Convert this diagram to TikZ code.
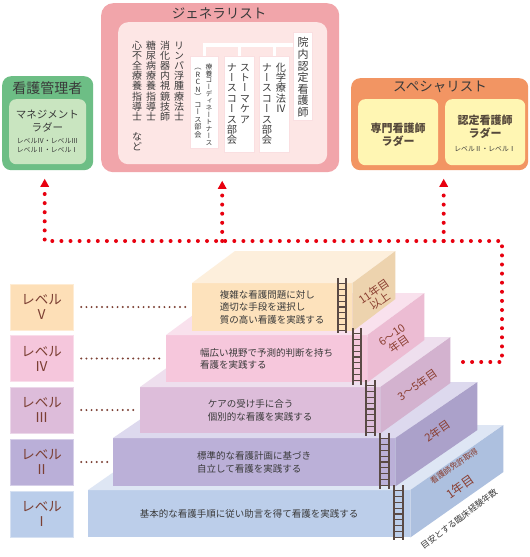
\documentclass[tikz,border=0pt]{standalone}
\usepackage{fontspec}
\setmainfont{Noto Sans CJK JP}
\newfontfamily\vjp[RawFeature=+vert]{Noto Sans CJK JP}
\makeatletter
\newdimen\tatestep
\newcommand\tate[2]{\vbox{\offinterlineskip\tatestep=#1\relax\@tfor\tate@c:=#2\do{\hbox to 1em{\hss\vrule height .88em depth .12em width 0pt\tate@c\hss}\kern\dimexpr\tatestep-1em\relax}}}
\makeatother
\definecolor{gOut}{HTML}{6DBE85}
\definecolor{gIn}{HTML}{C9E5C0}
\definecolor{pOut}{HTML}{F1A5AA}
\definecolor{pIn}{HTML}{FDE6E5}
\definecolor{oOut}{HTML}{F29563}
\definecolor{oIn}{HTML}{FFF6B3}
\definecolor{txt}{HTML}{3A3A3A}
\definecolor{brn}{HTML}{7B3F33}
\definecolor{sbrn}{HTML}{8A3E30}
\definecolor{dotred}{HTML}{E8000F}
\definecolor{lad}{HTML}{5A4A45}
\definecolor{cVf}{HTML}{FDE2BC}\definecolor{cVt}{HTML}{FDEFDC}\definecolor{cVs}{HTML}{EDD3AE}\definecolor{cVb}{HTML}{FDDFB7}
\definecolor{cIVf}{HTML}{F6C7DC}\definecolor{cIVt}{HTML}{F9E1ED}\definecolor{cIVs}{HTML}{ECBCD3}\definecolor{cIVb}{HTML}{F5C6DC}
\definecolor{cIIIf}{HTML}{DDBDDA}\definecolor{cIIIt}{HTML}{EEDFEE}\definecolor{cIIIs}{HTML}{D3B2CF}\definecolor{cIIIb}{HTML}{DDBCDA}
\definecolor{cIIf}{HTML}{BBB0D8}\definecolor{cIIt}{HTML}{DDD9EE}\definecolor{cIIs}{HTML}{ABA1CA}\definecolor{cIIb}{HTML}{BAAFD8}
\definecolor{cIf}{HTML}{BCCEEA}\definecolor{cIt}{HTML}{DEE6F4}\definecolor{cIs}{HTML}{ADC0DF}\definecolor{cIb}{HTML}{BACDEA}
\tikzset{
  face/.style={inner sep=0pt, anchor=north west, align=left, text=txt, font=\fontsize{9.5}{12.5}\selectfont},
  lvbox/.style={minimum width=63pt, minimum height=46pt, inner sep=0pt, align=center, text=brn, font=\fontsize{13.5}{15}\selectfont},
  reddot/.style={draw=dotred, line width=4pt, line cap=round, dash pattern=on 0pt off 9.1pt},
  leader/.style={draw=brn, line width=2.2pt, line cap=round, dash pattern=on 0pt off 5.2pt},
  ladrail/.style={draw=lad, line width=1.5pt},
  ladrung/.style={draw=lad, line width=1.2pt},
  sidelab/.style={rotate=35, align=center, text=sbrn, inner sep=0pt, font=\fontsize{11}{11.5}\selectfont},
  outbox/.style={rounded corners=9pt, anchor=north west, inner sep=0pt},
  inbox/.style={rounded corners=7pt, anchor=north west, inner sep=0pt},
  title/.style={text=txt, inner sep=0pt, font=\fontsize{13.5}{15}\selectfont},
  wbox/.style={fill=white, draw=pOut!35, line width=0.4pt, anchor=north west, inner sep=0pt},
  wline/.style={draw=white, line width=3.2pt},
  vcol/.style={anchor=north, inner sep=0pt, text=txt},
}
\newcommand\ladder[4]{%
  \draw[ladrail] (#1,#3) -- (#1,#4) (#2,#3) -- (#2,#4);
  \foreach \k in {1,...,9} \draw[ladrung] (#1,#3+\k*5.8) -- (#2,#3+\k*5.8);}
\begin{document}
\begin{tikzpicture}[x=1pt,y=-1pt]
\fill[white] (0,0) rectangle (530,557);
\useasboundingbox (0,0) rectangle (530,557);

% ---------- top boxes ----------
\node[outbox, fill=gOut, minimum width=91pt, minimum height=94pt] (mgr) at (2,76) {};
\node[inbox, fill=gIn, minimum width=77pt, minimum height=65pt] (mgrIn) at (9,99) {};
\node[title, font=\fontsize{14}{15}\selectfont] (mgrT) at (47.5,88) {看護管理者};
\node[text=txt, align=center, inner sep=0pt, font=\fontsize{10.5}{12.5}\selectfont] (mgrL) at (47.5,121) {マネジメント\\ラダー};
\node[text=txt, align=center, inner sep=0pt, font=\fontsize{6.8}{9}\selectfont] (mgrS) at (47.5,145.5) {レベルⅣ・レベルⅢ\\レベルⅡ・レベルⅠ};

\node[outbox, rounded corners=12pt, fill=pOut, minimum width=238pt, minimum height=169pt] (gen) at (101,3) {};
\node[inbox, rounded corners=10pt, fill=pIn, minimum width=209pt, minimum height=142pt] (genIn) at (118,22) {};
\node[title] (genT) at (219,13) {ジェネラリスト};

\node[outbox, fill=oOut, minimum width=177pt, minimum height=92pt] (spec) at (351,78) {};
\node[inbox, fill=oIn, minimum width=80pt, minimum height=66pt] (spA) at (358,99) {};
\node[inbox, fill=oIn, minimum width=80pt, minimum height=66pt] (spB) at (445,99) {};
\node[title] (specT) at (440,87) {スペシャリスト};
\node[text=txt!80!brown, align=center, inner sep=0pt, font=\bfseries\fontsize{11}{13}\selectfont] (spAT) at (398,134.5) {専門看護師\\ラダー};
\node[text=txt!80!brown, align=center, inner sep=0pt, font=\bfseries\fontsize{11}{13}\selectfont] (spBT) at (485,126.5) {認定看護師\\ラダー};
\node[text=txt, inner sep=0pt, font=\fontsize{6.8}{8}\selectfont] (spBS) at (485,149) {レベルⅡ・レベルⅠ};

% generalist inner content
\node[wbox, minimum width=19pt, minimum height=88pt] (bA) at (293,32) {};
\node[wbox, minimum width=30pt, minimum height=96pt] (b2) at (259,56) {};
\node[wbox, minimum width=30pt, minimum height=96pt] (b3) at (224,56) {};
\node[wbox, minimum width=28pt, minimum height=92pt] (b4) at (190,56) {};
\coordinate (hl) at (250,45);
\draw[wline] (b4.north) |- (bA.west |- hl);
\draw[wline] (b3.north) -- (b3.north |- hl);
\draw[wline] (b2.north) -- (b2.north |- hl);

\node[vcol, font=\vjp\fontsize{11}{11}\selectfont] (cA) at (303,37) {\tate{11.6pt}{院内認定看護師}};
\node[vcol, font=\vjp\fontsize{10.2}{10.2}\selectfont] (c2a) at (281,62) {\tate{10.4pt}{化学療法Ⅳ}};
\node[vcol, font=\vjp\fontsize{10.2}{10.2}\selectfont] (c2b) at (267,62) {\tate{10.4pt}{ナースコース部会}};
\node[vcol, font=\vjp\fontsize{10.2}{10.2}\selectfont] (c3a) at (245,62) {\tate{10.4pt}{ストーマケア}};
\node[vcol, font=\vjp\fontsize{10.2}{10.2}\selectfont] (c3b) at (232,62) {\tate{10.4pt}{ナースコース部会}};
\node[vcol, font=\vjp\fontsize{6.8}{6.8}\selectfont] (c4a) at (209,63) {\tate{6.9pt}{療養コーディネートナース}};
\node[vcol, font=\vjp\fontsize{7.2}{7.2}\selectfont] (c4b) at (198,63) {\tate{7.5pt}{（RCN）コース部会}};
\node[vcol, font=\vjp\fontsize{10}{10}\selectfont] (g1) at (179,40) {\tate{10.2pt}{リンパ浮腫療法士}};
\node[vcol, font=\vjp\fontsize{10}{10}\selectfont] (g2) at (165,40) {\tate{10.2pt}{消化器内視鏡技師}};
\node[vcol, font=\vjp\fontsize{10}{10}\selectfont] (g3) at (151,40) {\tate{10.2pt}{糖尿病療養指導士}};
\node[vcol, font=\vjp\fontsize{10}{10}\selectfont] (g4) at (137,40) {\tate{10.2pt}{心不全療養指導士}};
\node[vcol, font=\vjp\fontsize{10}{10}\selectfont] (g5) at (137,131) {\tate{10.2pt}{など}};

% ---------- pyramid ----------
% Level I
\node[face, fill=cIf, minimum width=322pt, minimum height=47pt] (f1) at (88,490) {基本的な看護手順に従い助言を得て看護を実践する};
\fill[cIt] (f1.north west) -- ++(93,-65) -- ++(322,0) -- (f1.north east) -- cycle;
\fill[cIs] (f1.north east) -- ++(93,-65) -- ++(0,47) -- (f1.south east) -- cycle;
% Level II
\node[face, fill=cIIf, minimum width=282pt, minimum height=48pt] (f2) at (113,438) {標準的な看護計画に基づき\\自立して看護を実践する};
\fill[cIIt] (f2.north west) -- ++(82,-56) -- ++(282,0) -- (f2.north east) -- cycle;
\fill[cIIs] (f2.north east) -- ++(82,-56) -- ++(0,48) -- (f2.south east) -- cycle;
% Level III
\node[face, fill=cIIIf, minimum width=240pt, minimum height=46pt] (f3) at (140,387) {ケアの受け手に合う\\個別的な看護を実践する};
\fill[cIIIt] (f3.north west) -- ++(70,-50) -- ++(240,0) -- (f3.north east) -- cycle;
\fill[cIIIs] (f3.north east) -- ++(70,-50) -- ++(0,46) -- (f3.south east) -- cycle;
% Level IV
\node[face, fill=cIVf, minimum width=201pt, minimum height=47pt] (f4) at (166,335) {幅広い視野で予測的判断を持ち\\看護を実践する};
\fill[cIVt] (f4.north west) -- ++(57,-42) -- ++(201,0) -- (f4.north east) -- cycle;
\fill[cIVs] (f4.north east) -- ++(57,-42) -- ++(0,47) -- (f4.south east) -- cycle;
% Level V
\node[face, fill=cVf, minimum width=160pt, minimum height=48pt] (f5) at (192,283) {複雑な看護問題に対し\\適切な手段を選択し\\質の高い看護を実践する};
\fill[cVt] (f5.north west) -- ++(43,-32) -- ++(160,0) -- (f5.north east) -- cycle;
\fill[cVs] (f5.north east) -- ++(43,-32) -- ++(0,48) -- (f5.south east) -- cycle;

% ladders
\ladder{338}{346}{278}{333}
\ladder{353}{361}{328}{385}
\ladder{366}{375}{380}{436}
\ladder{380}{389}{433}{489}
\ladder{394}{403}{485}{540}

% side labels
\node[sidelab] (s5) at (377,296) {11年目\\以上};
\node[sidelab] (s4) at (396,340) {6〜10\\年目};
\node[sidelab] (s3) at (418,385) {3〜5年目};
\node[sidelab] (s2) at (438,431) {2年目};
\node[sidelab, font=\fontsize{8}{13}\selectfont] (s1a) at (454,466) {看護師免許取得};
\node[sidelab, font=\fontsize{12}{13}\selectfont] (s1b) at (460,487) {1年目};
\node[rotate=37, text=txt, inner sep=0pt, font=\fontsize{8.5}{9}\selectfont] (axis) at (459,519) {目安とする臨床経験年数};

% level boxes
\node[lvbox, fill=cVb, draw=cVb!60!white] (lv5) at (41.5,307) {レベル\\Ⅴ};
\node[lvbox, fill=cIVb, draw=cIVb!60!white] (lv4) at (41.5,358.5) {レベル\\Ⅳ};
\node[lvbox, fill=cIIIb, draw=cIIIb!60!white] (lv3) at (41.5,410) {レベル\\Ⅲ};
\node[lvbox, fill=cIIb, draw=cIIb!60!white] (lv2) at (41.5,462) {レベル\\Ⅱ};
\node[lvbox, fill=cIb, draw=cIb!60!white] (lv1) at (41.5,514) {レベル\\Ⅰ};

% brown leaders
\draw[leader, shorten <=8pt, shorten >=3pt] (lv5.east) -- (lv5.east -| f5.west);
\draw[leader, shorten <=8pt, shorten >=3pt] (lv4.east) -- (lv4.east -| f4.west);
\draw[leader, shorten <=8pt, shorten >=3pt] (lv3.east) -- (lv3.east -| f3.west);
\draw[leader, shorten <=8pt, shorten >=3pt] (lv2.east) -- (lv2.east -| f2.west);

% red dotted connectors
\coordinate (t1) at ([shift={(-3,8.5)}]mgr.south);
\coordinate (t2) at ([shift={(2,8.5)}]gen.south);
\coordinate (t3) at ([shift={(4,8.5)}]spec.south);
\coordinate (e1) at ([shift={(0,14)}]t1);
\coordinate (e2) at ([shift={(0,14)}]t2);
\coordinate (e3) at ([shift={(0,14)}]t3);
\coordinate (rs) at (463,362);
\coordinate (rc) at (502,241);
\draw[reddot] (rs) -| (rc) -- (rc -| e1) -- (e1);
\draw[reddot] (rc -| e2) -- (e2);
\draw[reddot] (rc -| e3) -- (e3);
\fill[dotred] (t1) -- ++(-4.5,8) -- ++(9,0) -- cycle;
\fill[dotred] (t2) -- ++(-4.5,8) -- ++(9,0) -- cycle;
\fill[dotred] (t3) -- ++(-4.5,8) -- ++(9,0) -- cycle;
\end{tikzpicture}
\end{document}
